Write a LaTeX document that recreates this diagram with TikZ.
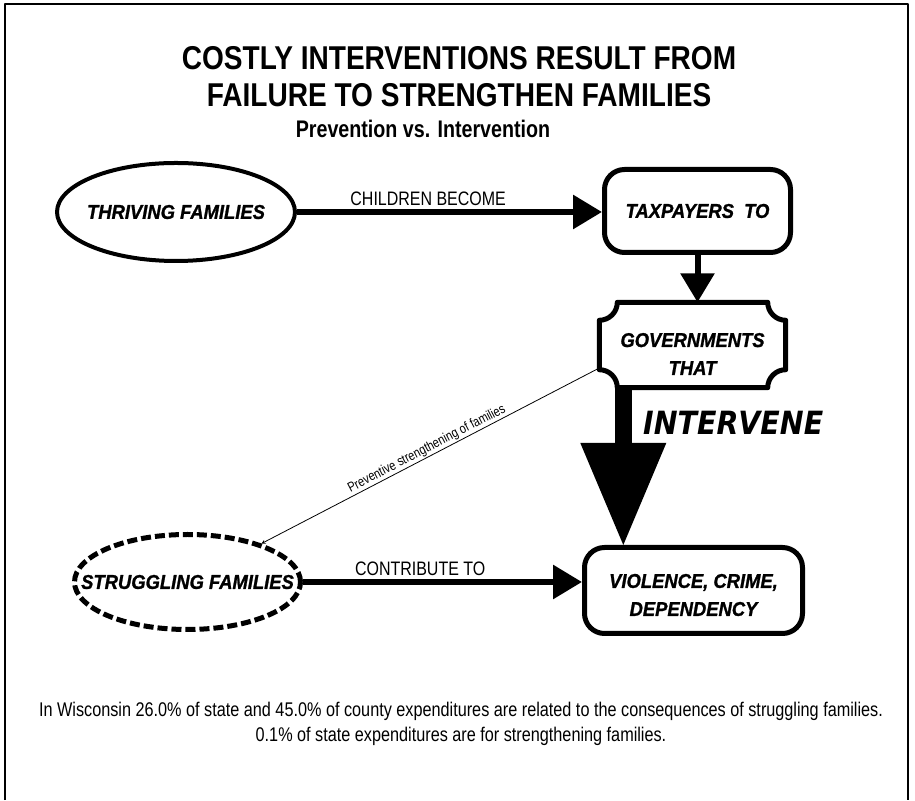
\documentclass[tikz,border=0pt]{standalone}
\usepackage{fontspec}
\setmainfont{Liberation Sans}
\newfontfamily\narrowfont[FakeStretch=0.82]{Liberation Sans}
\newfontfamily\titlefont[FakeStretch=0.85]{Liberation Sans}
\newfontfamily\boxfont[FakeStretch=0.92,FakeBold=1.2]{Liberation Sans}
\newfontfamily\heavyfont[FakeStretch=0.89]{DejaVu Sans}
\usetikzlibrary{shapes.geometric,arrows.meta,positioning}
\begin{document}
\begin{tikzpicture}[x=1pt,y=1pt, line join=round, >=stealth,
  boxtext/.style={font=\boxfont\bfseries\itshape\fontsize{20}{28}\selectfont, align=center, inner sep=0pt},
  famnode/.style={boxtext, ellipse, draw, line width=4pt},
  roundbox/.style={boxtext, rectangle, draw, line width=5pt, rounded corners=20pt, minimum width=186pt, minimum height=83pt},
  bigarrow/.style={line width=6pt, -{Triangle[length=29pt,width=33pt]}},
  linklabel/.style={font=\narrowfont\fontsize{19.5}{22}\selectfont}]
\useasboundingbox (0,0) rectangle (915,800);
\draw[line width=2pt] (5,0) -- (5,796) -- (908,796) -- (908,0);
\node[font=\titlefont\bfseries\fontsize{33}{37}\selectfont, align=center] (title) at (459,723) {COSTLY INTERVENTIONS RESULT FROM\\FAILURE TO STRENGTHEN FAMILIES};
\node[font=\narrowfont\bfseries\fontsize{24}{28}\selectfont] (subtitle) at (423,671) {Prevention vs. Intervention};
% families and boxes
\node[famnode, minimum width=238pt, minimum height=98pt] (thr) at (176,588) {\makebox[0pt]{THRIVING FAMILIES}};
\node[roundbox] (tax) at (697.5,589) {TAXPAYERS~~TO};
\node[boxtext, minimum width=186pt, minimum height=85pt] (gov) at (692.5,455) {\rule{0pt}{32pt}GOVERNMENTS\\THAT};
\node[roundbox, minimum width=218pt, minimum height=86pt] (viol) at (693.5,209.5) {\rule{0pt}{23pt}VIOLENCE, CRIME,\\DEPENDENCY};
\node[famnode, line width=5pt, dash pattern=on 10pt off 4pt, minimum width=226pt, minimum height=95pt] (str) at (187.5,218) {\makebox[0pt]{STRUGGLING FAMILIES}};
\def\nr{18pt}
\draw[line width=5pt] ([xshift=\nr]gov.north west) -- ([xshift=-\nr]gov.north east) arc[start angle=180,end angle=270,radius=\nr] %
  -- ([yshift=\nr]gov.south east) arc[start angle=90,end angle=180,radius=\nr] %
  -- ([xshift=\nr]gov.south west) arc[start angle=0,end angle=90,radius=\nr] %
  -- ([yshift=-\nr]gov.north west) arc[start angle=270,end angle=360,radius=\nr] -- cycle;
% connectors
\draw[bigarrow] (thr.east) -- (thr.east -| tax.west) node[pos=.43, above, linklabel] {CHILDREN BECOME};
\draw[bigarrow] (tax.south) -- (tax.south |- gov.north);
\draw[bigarrow] (str.east) -- (str.east -| viol.west) node[pos=.42, above, linklabel] {CONTRIBUTE TO};
\draw[<-, line width=.8pt] (str) -- ([yshift=-23pt]gov.west) node[midway, above, sloped, inner sep=1pt, font=\narrowfont\fontsize{13.5}{16}\selectfont] {Preventive strengthening of families};
\coordinate (ivtop) at ([xshift=24pt]gov.south west);
\coordinate (ivtip) at (ivtop |- viol.north);
\fill ([xshift=-8.5pt]ivtop) rectangle ([xshift=8.5pt,yshift=102pt]ivtip);
\fill ([xshift=-43pt,yshift=102pt]ivtip) -- ([xshift=43pt,yshift=102pt]ivtip) -- (ivtip) -- cycle;
\node[anchor=base west, inner sep=0pt, font=\heavyfont\bfseries\itshape\fontsize{32}{38}\selectfont] (ivlabel) at (643,365) {INTERVENE};
\node[font=\narrowfont\fontsize{19.8}{25}\selectfont, align=center] (note) at (461,76) {In Wisconsin 26.0\% of state and 45.0\% of county expenditures are related to the consequences of struggling families.\\0.1\% of state expenditures are for strengthening families.};
\end{tikzpicture}
\end{document}
